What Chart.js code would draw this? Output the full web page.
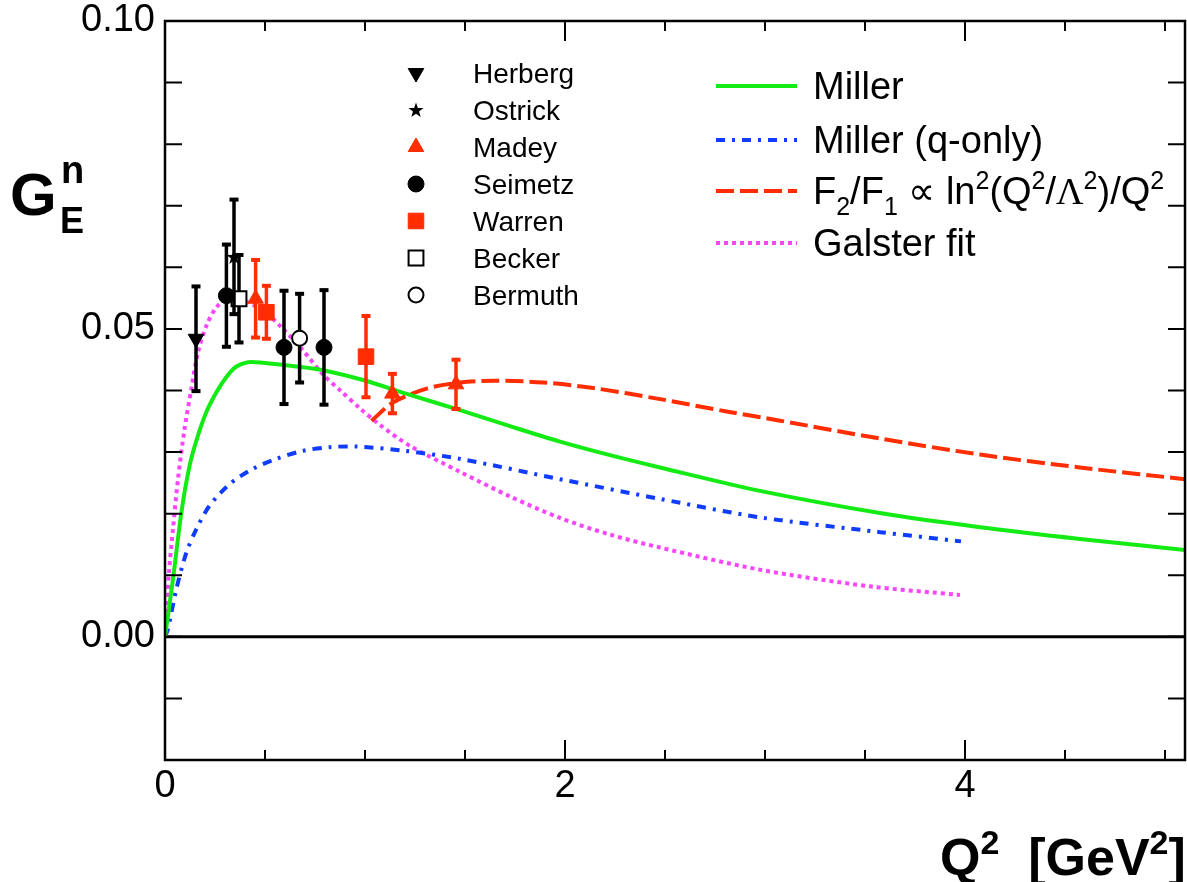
<!DOCTYPE html>
<html>
<head>
<meta charset="utf-8">
<script src="https://cdn.jsdelivr.net/npm/chart.js@4/dist/chart.umd.min.js"></script>
<style>
  html, body { margin: 0; padding: 0; background: #fff; }
  #wrap { width: 1187px; height: 882px; }
</style>
</head>
<body>
<div id="wrap"><canvas id="myChart"></canvas></div>
<script>
// --- measured points: Q^2 [GeV^2], G_E^n and symmetric error ---
const herbergQ2 = [0.155];
const herbergGE = [0.0484];
const herbergErr = [0.0085];

const ostrickQ2 = [0.345];
const ostrickGE = [0.0617];
const ostrickErr = [0.0093];

const madeyQ2 = [0.453, 1.137, 1.455];
const madeyGE = [0.0549, 0.0395, 0.041];
const madeyErr = [0.0063, 0.0032, 0.004];

const seimetzQ2 = [0.307, 0.595, 0.795];
const seimetzGE = [0.0554, 0.047, 0.047];
const seimetzErr = [0.0083, 0.0092, 0.0093];

const warrenQ2 = [0.507, 1.005];
const warrenGE = [0.0527, 0.0455];
const warrenErr = [0.0043, 0.0066];

const beckerQ2 = [0.37];
const beckerGE = [0.0549];
const beckerErr = [0.0071];

const bermuthQ2 = [0.673];
const bermuthGE = [0.0485];
const bermuthErr = [0.0072];

// --- model curves ---
const millerQ2 = [0, 0.04, 0.082, 0.123, 0.165, 0.207, 0.257, 0.307, 0.357, 0.415, 0.49, 0.657, 0.79, 0.99, 1.225, 1.475, 1.725, 1.975, 2.225, 2.475, 2.975, 3.575, 4.075, 4.575, 5.1];
const millerGE = [0, 0.0094, 0.0202, 0.0278, 0.0327, 0.0365, 0.0397, 0.0422, 0.0439, 0.0446, 0.0445, 0.0439, 0.0433, 0.0417, 0.0393, 0.0368, 0.0342, 0.0317, 0.0295, 0.0275, 0.0237, 0.0201, 0.0178, 0.0159, 0.0141];

const qonlyQ2 = [0, 0.015, 0.057, 0.107, 0.157, 0.223, 0.323, 0.44, 0.557, 0.69, 0.823, 0.957, 1.2, 1.475, 1.975, 2.475, 2.975, 3.575, 3.98];
const qonlyGE = [0, 0.0013, 0.0078, 0.0137, 0.0175, 0.0213, 0.0248, 0.0273, 0.0289, 0.0302, 0.0308, 0.0309, 0.0302, 0.0289, 0.0256, 0.0224, 0.0194, 0.017, 0.0155];

const f2f1Q2 = [1.033, 1.142, 1.308, 1.475, 1.642, 1.892, 2.142, 2.475, 2.808, 3.075, 3.575, 4.075, 4.575, 5.1];
const f2f1GE = [0.0351, 0.0381, 0.0403, 0.0413, 0.0416, 0.0413, 0.0404, 0.0386, 0.0366, 0.0351, 0.0322, 0.0296, 0.0275, 0.0256];

const galsterQ2 = [0, 0.02, 0.04, 0.065, 0.098, 0.132, 0.165, 0.207, 0.257, 0.315, 0.39, 0.49, 0.59, 0.69, 0.79, 0.88, 0.975, 1.075, 1.225, 1.475, 1.725, 1.975, 2.225, 2.475, 2.975, 3.525, 3.975];
const galsterGE = [0, 0.0105, 0.0175, 0.0256, 0.0338, 0.0403, 0.0462, 0.0505, 0.0535, 0.0549, 0.0546, 0.053, 0.05, 0.0465, 0.0426, 0.0399, 0.0371, 0.0344, 0.031, 0.0268, 0.0228, 0.0193, 0.0166, 0.0145, 0.0109, 0.0082, 0.0068];

const RED = 'rgb(255,45,0)';
const GREEN = 'rgb(20,235,20)';
const BLUE = 'rgb(15,60,255)';
const PINK = 'rgb(250,70,250)';
const FONT = "'Liberation Sans', Arial, sans-serif";

function pts(xs, ys) { return xs.map((x, i) => ({ x: x, y: ys[i] })); }

// filled five point star used as marker for Ostrick
function makeStar() {
  const c = document.createElement('canvas');
  c.width = 18; c.height = 18;
  const g = c.getContext('2d');
  g.beginPath();
  for (let i = 0; i < 10; i++) {
    const r = i % 2 === 0 ? 8 : 3.2;
    const a = -Math.PI / 2 + i * Math.PI / 5;
    const px = 9 + r * Math.cos(a), py = 9.5 + r * Math.sin(a);
    if (i === 0) g.moveTo(px, py); else g.lineTo(px, py);
  }
  g.closePath();
  g.fillStyle = '#000';
  g.fill();
  return c;
}
const star = makeStar();

function pointSet(label, xs, ys, errs, style, color, radius, opts) {
  return Object.assign({
    label: label,
    data: pts(xs, ys),
    errors: errs,
    errColor: color,
    showLine: false,
    pointStyle: style,
    pointRadius: radius,
    pointHoverRadius: radius,
    pointBackgroundColor: color,
    pointBorderColor: color,
    pointBorderWidth: 1,
    pointRotation: 0
  }, opts || {});
}

function curveSet(label, xs, ys, color, dash) {
  return {
    label: label,
    data: pts(xs, ys),
    showLine: true,
    borderColor: color,
    borderWidth: 4,
    borderDash: dash,
    pointRadius: 0,
    fill: false,
    tension: 0.3
  };
}

const pointSets = [
  pointSet('Herberg', herbergQ2, herbergGE, herbergErr, 'triangle', '#000', 9, { pointRotation: 180 }),
  pointSet('Ostrick', ostrickQ2, ostrickGE, ostrickErr, star, '#000', 8),
  pointSet('Madey', madeyQ2, madeyGE, madeyErr, 'triangle', RED, 9),
  pointSet('Seimetz', seimetzQ2, seimetzGE, seimetzErr, 'circle', '#000', 8),
  pointSet('Warren', warrenQ2, warrenGE, warrenErr, 'rect', RED, 11),
  pointSet('Becker', beckerQ2, beckerGE, beckerErr, 'rect', '#000', 10.5, { pointBackgroundColor: '#fff', pointBorderWidth: 2 }),
  pointSet('Bermuth', bermuthQ2, bermuthGE, bermuthErr, 'circle', '#000', 7.5, { pointBackgroundColor: '#fff', pointBorderWidth: 2 })
];

const curveSets = [
  curveSet('Miller', millerQ2, millerGE, GREEN, []),
  curveSet('Miller (q-only)', qonlyQ2, qonlyGE, BLUE, [9, 7, 3, 7]),
  curveSet('F2/F1', f2f1Q2, f2f1GE, RED, [18, 6]),
  curveSet('Galster fit', galsterQ2, galsterGE, PINK, [4, 4])
];

// rich text pieces for legend label of the F2/F1 curve
const f2f1Label = [
  ['F'], ['2', 'sub'], ['/F'], ['1', 'sub'], [' \u221D ln'], ['2', 'sup'], ['(Q'], ['2', 'sup'],
  ['/'], ['\u039B', null, 'serif'], ['2', 'sup'], [')/Q'], ['2', 'sup']
];

function richText(ctx, parts, x, y, size, bold) {
  const w = bold ? 'bold ' : '';
  parts.forEach(p => {
    const small = p[1] === 'sub' || p[1] === 'sup';
    const sz = small ? Math.round(size * 0.66) : size;
    const fam = p[2] === 'serif' ? "'Liberation Serif', serif" : FONT;
    ctx.font = w + sz + 'px ' + fam;
    const dy = p[1] === 'sub' ? size * 0.3 : p[1] === 'sup' ? -size * 0.4 : 0;
    ctx.fillText(p[0], x, y + dy);
    x += ctx.measureText(p[0]).width;
  });
  return x;
}

const errorBars = {
  id: 'errorBars',
  beforeDatasetsDraw(chart) {
    // y = 0 reference line under the curves
    const { ctx, chartArea: a, scales: { y } } = chart;
    ctx.save();
    ctx.strokeStyle = '#000';
    ctx.lineWidth = 3;
    ctx.beginPath();
    ctx.moveTo(a.left, y.getPixelForValue(0));
    ctx.lineTo(a.right, y.getPixelForValue(0));
    ctx.stroke();
    ctx.restore();
  },
  beforeDatasetDraw(chart, args) {
    const ds = chart.data.datasets[args.index];
    if (!ds.errors) return;
    const { ctx, scales: { x, y } } = chart;
    ctx.save();
    ctx.strokeStyle = ds.errColor;
    ctx.fillStyle = ds.errColor;
    ctx.lineWidth = 3.5;
    ds.data.forEach((p, i) => {
      const px = x.getPixelForValue(p.x);
      const top = y.getPixelForValue(p.y + ds.errors[i]);
      const bot = y.getPixelForValue(p.y - ds.errors[i]);
      ctx.beginPath();
      ctx.moveTo(px, top);
      ctx.lineTo(px, bot);
      ctx.stroke();
      ctx.fillRect(px - 4.5, top - 2, 9, 4);
      ctx.fillRect(px - 4.5, bot - 2, 9, 4);
    });
    ctx.restore();
  }
};

const frame = {
  id: 'frame',
  afterDraw(chart) {
    const { ctx, chartArea: a, scales: { x, y } } = chart;
    ctx.save();
    ctx.strokeStyle = '#000';
    ctx.lineWidth = 2.5;
    ctx.strokeRect(a.left, a.top, a.right - a.left, a.bottom - a.top);

    // inside ticks
    ctx.lineWidth = 2;
    ctx.beginPath();
    for (let k = -1; k <= 9; k++) {
      const py = y.getPixelForValue(k / 100);
      ctx.moveTo(a.left, py); ctx.lineTo(a.left + 17, py);
      ctx.moveTo(a.right, py); ctx.lineTo(a.right - 17, py);
    }
    for (let k = 1; k <= 10; k++) {
      const px = x.getPixelForValue(k / 2);
      const len = k % 4 === 0 ? 20 : 10;
      ctx.moveTo(px, a.bottom); ctx.lineTo(px, a.bottom - len);
      ctx.moveTo(px, a.top); ctx.lineTo(px, a.top + len);
    }
    ctx.stroke();

    // axis titles
    ctx.fillStyle = '#000';
    ctx.textBaseline = 'alphabetic';
    ctx.font = 'bold 60px ' + FONT;
    ctx.fillText('G', 10, 215);
    ctx.font = 'bold 38px ' + FONT;
    ctx.fillText('n', 61, 183);
    ctx.font = 'bold 36px ' + FONT;
    ctx.fillText('E', 60, 233);

    richText(ctx, [['Q'], ['2', 'sup'], ['  [GeV'], ['2', 'sup'], [']']], 940, 875, 52, true);

    // legend of the data sets
    const dsets = chart.data.datasets;
    dsets.filter(d => d.errors).forEach((d, i) => {
      const ly = 73 + i * 37;
      ctx.fillStyle = d.pointBackgroundColor;
      ctx.strokeStyle = d.pointBorderColor;
      ctx.lineWidth = d.pointBorderWidth;
      Chart.helpers.drawPoint(ctx, {
        pointStyle: d.pointStyle, rotation: d.pointRotation,
        radius: d.pointRadius, borderWidth: d.pointBorderWidth
      }, 416, ly);
      ctx.fillStyle = '#000';
      ctx.font = '28px ' + FONT;
      ctx.fillText(d.label, 473, ly + 10);
    });

    // legend of the curves
    dsets.filter(d => !d.errors).forEach((d, i) => {
      const ly = [86, 140, 191, 243][i];
      ctx.strokeStyle = d.borderColor;
      ctx.lineWidth = 4;
      ctx.setLineDash(d.borderDash);
      ctx.beginPath();
      ctx.moveTo(716, ly); ctx.lineTo(797, ly);
      ctx.stroke();
      ctx.setLineDash([]);
      ctx.fillStyle = '#000';
      if (d.label === 'F2/F1') {
        richText(ctx, f2f1Label, 813, ly + 13, 38, false);
      } else {
        ctx.font = '38px ' + FONT;
        ctx.fillText(d.label, 813, ly + 13);
      }
    });
    ctx.restore();
  }
};

const config = {
  type: 'scatter',
  data: { datasets: pointSets.concat(curveSets) },
  options: {
    responsive: true,
    maintainAspectRatio: false,
    animation: false,
    events: [],
    layout: { autoPadding: false, padding: { top: 21, right: 2, left: 0, bottom: 0 } },
    plugins: { legend: { display: false }, tooltip: { enabled: false } },
    scales: {
      x: {
        type: 'linear', min: 0, max: 5.1,
        grid: { display: false, drawTicks: false },
        border: { display: false },
        afterFit(scale) { scale.height = 122; scale.paddingLeft = 0; scale.paddingRight = 0; },
        ticks: {
          stepSize: 2, includeBounds: false, padding: 8, color: '#000',
          font: { family: FONT, size: 38, lineHeight: 1 },
          maxRotation: 0
        }
      },
      y: {
        type: 'linear', min: -0.02, max: 0.1,
        grid: { display: false, drawTicks: false },
        border: { display: false },
        afterFit(scale) { scale.width = 165; scale.paddingTop = 0; scale.paddingBottom = 0; },
        ticks: {
          stepSize: 0.05, includeBounds: false, padding: 10, color: '#000',
          font: { family: FONT, size: 38, lineHeight: 1 },
          callback: v => v.toFixed(2)
        }
      }
    }
  },
  plugins: [errorBars, frame]
};

const myChart = new Chart(document.getElementById('myChart'), config);
</script>
</body>
</html>
